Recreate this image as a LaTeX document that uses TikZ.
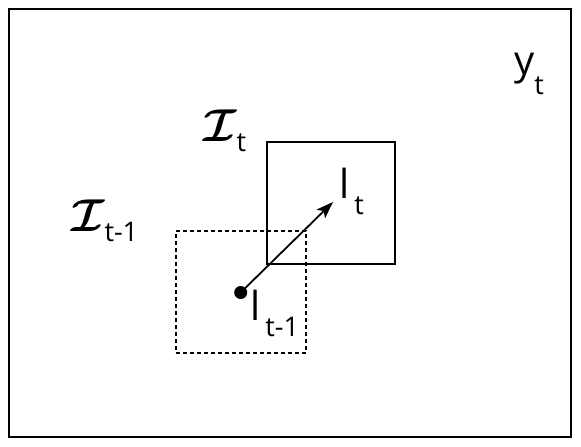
\documentclass[tikz,border=0pt]{standalone}
\usepackage{amsmath, amssymb}
\usepackage{fontspec}
\usetikzlibrary{arrows.meta}
\newfontfamily\lblfont{Open Sans}
\newcommand{\lowsub}[2]{\raisebox{-#1pt}{\fontsize{27}{27}\selectfont #2}}
\newcommand{\calI}{\scalebox{1.85}{\fontsize{24.88}{24.88}\selectfont$\boldsymbol{\mathcal{I}}$}}

\tikzset{
  lbl/.style={anchor=base west, inner sep=0pt, font=\lblfont\fontsize{40}{40}\selectfont},
  win/.style={draw, line width=2pt, minimum width=128pt, minimum height=122pt, inner sep=0pt},
}

\begin{document}
\begin{tikzpicture}[x=1pt,y=1pt,>={Stealth[length=17pt,width=12pt,inset=4pt]}]
\useasboundingbox (0,0) rectangle (581,447);

% Rahmen
\node[draw, line width=2.5pt, minimum width=562pt, minimum height=428pt, inner sep=0pt] (frame) at (290,224) {};

% Fenster
\node[win] (win1) at (331,243.5) {};
\node[win, dash pattern=on 4pt off 3pt, minimum width=130pt] (win0) at (241,154.5) {};

% Punkt und Pfeil
\node[circle, fill, inner sep=0pt, minimum size=13pt] (pt0) at (240.7,154.5) {};
\coordinate (pt1) at (333,245);
\draw[->, line width=1.8pt] (pt0.center) -- (pt1);

% Beschriftung
\node[lbl] (yt) at (514,372) {y\lowsub{20}{t}};
\node[lbl] (lt) at (339,248) {l\kern5pt\lowsub{16}{t}};
\node[lbl] (ltm) at (250,126) {l\kern5pt\lowsub{16}{t-1}};
\node[lbl] (Ict) at (203,305) {\calI\lowsub{10}{t}};
\node[lbl] (Ictm) at (71,215) {\calI\lowsub{10}{t-1}};

\end{tikzpicture}
\end{document}
